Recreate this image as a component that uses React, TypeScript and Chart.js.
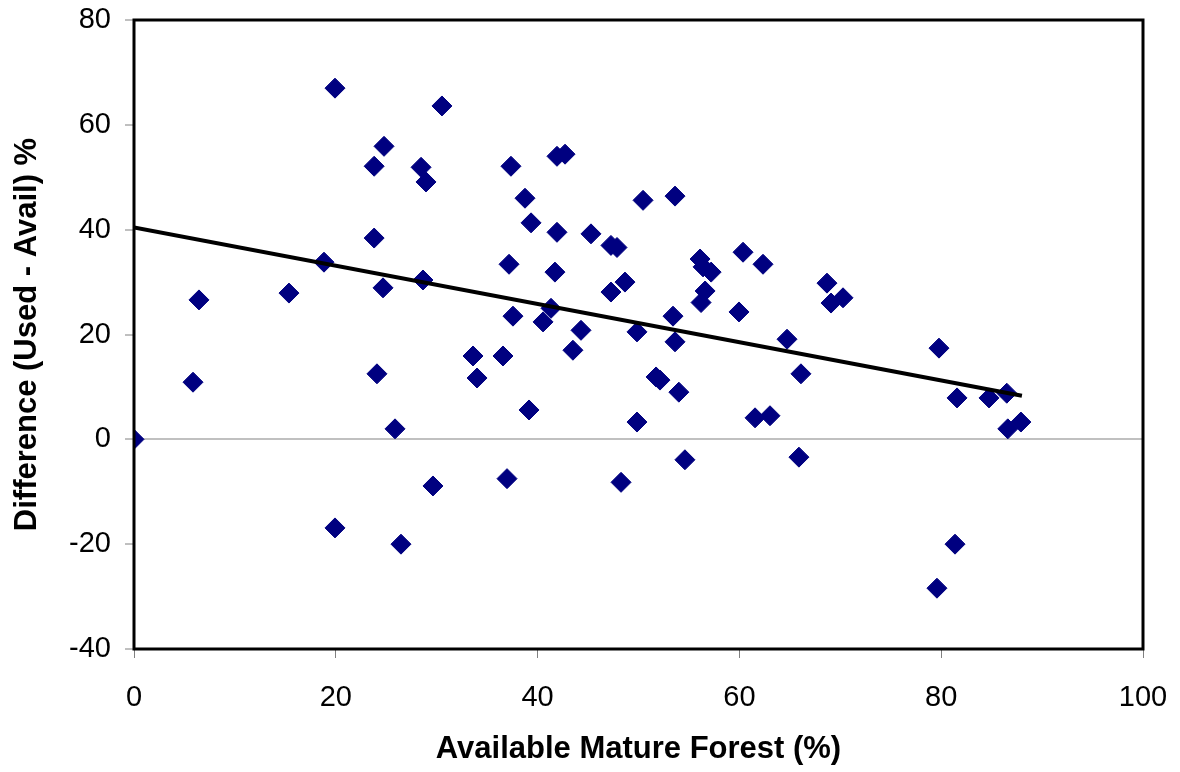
import React, { useEffect, useRef } from "react";
import { Chart, registerables } from "chart.js";

Chart.register(...registerables);

// Available mature forest (%) — x values
const forestX: number[] = [
  0, 5.85, 6.44, 15.36, 18.83, 19.92, 19.92, 23.8, 23.8, 24.08, 24.68, 24.78,
  25.87, 26.46, 28.45, 28.64, 28.94, 29.63, 30.52, 33.6, 34.0, 36.57, 36.97,
  37.17, 37.36, 37.56, 38.75, 39.15, 39.35, 40.54, 41.33, 41.72, 41.92, 41.92,
  42.72, 43.5, 44.3, 45.29, 47.27, 47.27, 47.87, 48.27, 48.66, 49.85, 49.85,
  50.45, 51.74, 52.13, 53.42, 53.62, 53.62, 54.0, 54.6, 56.1, 56.4, 57.2, 56.6,
  56.2, 59.96, 60.36, 61.55, 62.34, 63.03, 64.72, 65.9, 66.1, 68.68, 69.08,
  70.27, 79.78, 79.58, 81.57, 81.37, 84.74, 86.5, 86.6, 87.9,
];

// Difference (Used - Avail) % — y values
const diffY: number[] = [
  0, 10.9, 26.6, 27.9, 33.8, 67.0, -16.9, 52.1, 38.4, 12.5, 28.9, 55.9,
  2.0, -20.0, 51.9, 30.4, 49.1, -8.9, 63.6, 15.9, 11.7, 15.9, -7.5,
  33.4, 52.1, 23.5, 46.0, 5.6, 41.3, 22.4, 25.0, 31.9, 54.0, 39.5,
  54.4, 17.0, 20.8, 39.2, 37.0, 28.1, 36.6, -8.2, 30.0, 3.3, 20.5,
  45.6, 11.9, 11.3, 23.5, 18.6, 46.4, 9.0, -3.9, 34.4, 32.9, 31.9, 28.3,
  26.1, 24.3, 35.7, 4.1, 33.4, 4.5, 19.1, -3.4, 12.5, 29.8, 26.0,
  27.0, 17.4, -28.4, 7.9, -20.0, 7.9, 8.8, 2.0, 3.3,
];

// Linear trend line end points
const trendX: number[] = [0, 88];
const trendY: number[] = [40.4, 8.3];

const xTicks: number[] = [0, 20, 40, 60, 80, 100];
const yTicks: number[] = [-40, -20, 0, 20, 40, 60, 80];

const FONT = "'Liberation Sans', Arial, Helvetica, sans-serif";

const framePlugin = {
  id: "frame",
  afterDraw(chart: any) {
    const { ctx, chartArea } = chart;
    ctx.save();
    ctx.strokeStyle = "#000000";
    ctx.lineWidth = 3;
    ctx.strokeRect(
      chartArea.left,
      chartArea.top,
      chartArea.right - chartArea.left,
      chartArea.bottom - chartArea.top
    );
    ctx.restore();
  },
};

export default function App() {
  const ref = useRef<HTMLCanvasElement | null>(null);

  useEffect(() => {
    if (!ref.current) return;
    const chart = new Chart(ref.current, {
      type: "scatter",
      data: {
        datasets: [
          {
            type: "line",
            label: "Trend",
            data: trendX.map((x, i) => ({ x, y: trendY[i] })),
            borderColor: "#000000",
            borderWidth: 4,
            pointRadius: 0,
            fill: false,
            order: 0,
          } as any,
          {
            label: "Sites",
            data: forestX.map((x, i) => ({ x, y: diffY[i] })),
            backgroundColor: "#000080",
            borderColor: "#000080",
            borderWidth: 1,
            pointStyle: "rectRot",
            pointRadius: 10,
            order: 1,
          },
        ],
      },
      options: {
        animation: false,
        responsive: false,
        layout: { padding: { left: 0, right: 37, top: 20, bottom: 0 } },
        plugins: {
          legend: { display: false },
          tooltip: { enabled: false },
        },
        scales: {
          x: {
            type: "linear",
            min: 0,
            max: 100,
            afterBuildTicks: (s: any) => {
              s.ticks = xTicks.map((v) => ({ value: v }));
            },
            afterFit: (s: any) => {
              s.height = 123;
              s.paddingLeft = 0;
              s.paddingRight = 0;
            },
            grid: {
              drawOnChartArea: false,
              tickLength: 9,
              tickColor: "#808080",
              tickWidth: 1,
            },
            border: { display: false },
            ticks: {
              color: "#000000",
              font: { family: FONT, size: 29 },
              padding: 23,
              maxRotation: 0,
            },
            title: {
              display: true,
              text: "Available Mature Forest (%)",
              color: "#000000",
              font: { family: FONT, size: 31, weight: "bold" },
              padding: { top: 0, bottom: 4 },
            },
          },
          y: {
            type: "linear",
            min: -40,
            max: 80,
            afterBuildTicks: (s: any) => {
              s.ticks = yTicks.map((v) => ({ value: v }));
            },
            afterFit: (s: any) => {
              s.width = 134;
              s.paddingTop = 0;
              s.paddingBottom = 0;
            },
            grid: {
              color: (c: any) =>
                c.tick && c.tick.value === 0 ? "#c0c0c0" : "rgba(0,0,0,0)",
              lineWidth: 2,
              tickLength: 9,
              tickColor: "#808080",
              tickWidth: 1,
            },
            border: { display: false },
            ticks: {
              color: "#000000",
              font: { family: FONT, size: 29 },
              padding: 14,
            },
            title: {
              display: true,
              text: "Difference (Used - Avail) %",
              color: "#000000",
              font: { family: FONT, size: 31, weight: "bold" },
              padding: { top: 9, bottom: 0 },
            },
          },
        },
      },
      plugins: [framePlugin],
    });
    return () => chart.destroy();
  }, []);

  return (
    <div
      style={{
        position: "fixed",
        left: 0,
        top: 0,
        width: 1180,
        height: 772,
        background: "#ffffff",
      }}
    >
      <canvas ref={ref} width={1180} height={772} style={{ display: "block" }} />
    </div>
  );
}
